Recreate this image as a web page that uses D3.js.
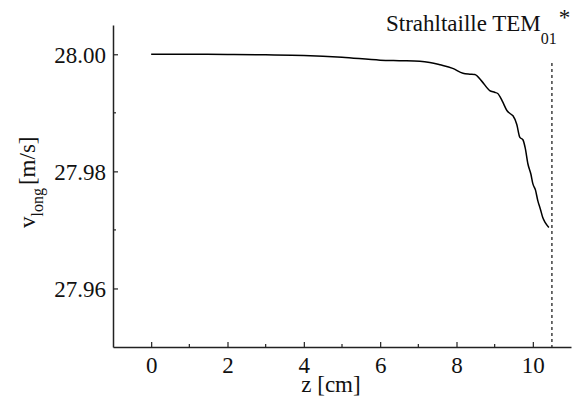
<!DOCTYPE html>
<html>
<head>
<meta charset="utf-8">
<script src="https://d3js.org/d3.v7.min.js"></script>
<style>
  body { margin: 0; background: #fff; }
  svg text, svg tspan { font-family: "Liberation Serif", "Times New Roman", serif !important; }
</style>
</head>
<body>
<script>
// Données
const zPositions = [0, 1, 2, 3, 4, 5, 6, 6.5, 7.04, 7.3, 7.57, 7.9, 8.17, 8.35, 8.48, 8.65, 8.87, 9.0, 9.08, 9.2, 9.32, 9.42, 9.48, 9.58, 9.66, 9.74, 9.8, 9.87, 9.95, 10.0, 10.07, 10.13, 10.2, 10.26, 10.33, 10.42]
const vLong = [28.0000, 28.0000, 27.99995, 27.9999, 27.9998, 27.9995, 27.9990, 27.9989, 27.9988, 27.9986, 27.9982, 27.9976, 27.99675, 27.9966, 27.99653, 27.9955, 27.9938, 27.9935, 27.9933, 27.9920, 27.9904, 27.9898, 27.9895, 27.9880, 27.9858, 27.9854, 27.9840, 27.9813, 27.9795, 27.9779, 27.9768, 27.9750, 27.9735, 27.9721, 27.9712, 27.9704]
const xTicks = [0, 2, 4, 6, 8, 10]
const xMinorTicks = [1, 3, 5, 7, 9]
const yTicks = [27.96, 27.98, 28.00]
const yMinorTicks = [27.97, 27.99]
const waistZ = 10.5

// Dimensions du graphique
const width = 579
const height = 401
const margin = {top: 25, right: 8, bottom: 54, left: 113}
const serif = "Liberation Serif"
const fs = 23

const svg = d3.select("body")
  .append("svg")
    .attr("width", width)
    .attr("height", height)
    .attr("font-family", serif)

const x = d3.scaleLinear()
  .domain([-1, 11])
  .range([margin.left, width - margin.right])

const y = d3.scaleLinear()
  .domain([27.95, 28.005])
  .range([height - margin.bottom, margin.top])

const data = zPositions.map((z, i) => ({z: z, v: vLong[i]}))

// Axe x (graduations vers l'intérieur)
const gx = svg.append("g")
  .attr("transform", `translate(0,${y.range()[0]})`)
gx.call(d3.axisBottom(x).tickValues(xTicks).tickSizeInner(-5).tickSizeOuter(0).tickFormat(d3.format("d")))
gx.append("g").selectAll("line")
  .data(xMinorTicks)
  .join("line")
    .attr("x1", d => x(d)).attr("x2", d => x(d))
    .attr("y1", 0).attr("y2", -3)
    .attr("stroke", "#222")
    .attr("stroke-width", 1.2)
gx.attr("font-family", serif).attr("font-size", fs)
gx.select(".domain").attr("stroke", "#222").attr("stroke-width", 1.5)
gx.selectAll(".tick line").attr("stroke", "#222").attr("stroke-width", 1.2)
gx.selectAll(".tick text")
  .attr("y", 10)
  .attr("dy", "0.71em")
  .attr("fill", "#111")

// Axe y
const gy = svg.append("g")
  .attr("transform", `translate(${x.range()[0]},0)`)
gy.call(d3.axisLeft(y).tickValues(yTicks).tickSizeInner(-5).tickSizeOuter(0).tickFormat(d3.format(".2f")))
gy.append("g").selectAll("line")
  .data(yMinorTicks)
  .join("line")
    .attr("y1", d => y(d)).attr("y2", d => y(d))
    .attr("x1", 0).attr("x2", 3)
    .attr("stroke", "#222")
    .attr("stroke-width", 1.2)
gy.attr("font-family", serif).attr("font-size", fs)
gy.select(".domain").attr("stroke", "#222").attr("stroke-width", 1.5)
gy.selectAll(".tick line").attr("stroke", "#222").attr("stroke-width", 1.2)
gy.selectAll(".tick text")
  .attr("x", -7)
  .attr("dy", "0.36em")
  .attr("fill", "#111")

// Courbe
const line = d3.line()
  .x(d => x(d.z))
  .y(d => y(d.v))
  .curve(d3.curveMonotoneX)

svg.append("path")
  .datum(data)
  .attr("fill", "none")
  .attr("stroke", "#000")
  .attr("stroke-width", 1.5)
  .attr("d", line)

// Ligne pointillée : taille du faisceau
svg.append("line")
  .attr("x1", x(waistZ)).attr("x2", x(waistZ))
  .attr("y1", 63).attr("y2", y.range()[0])
  .attr("stroke", "#222")
  .attr("stroke-width", 1.3)
  .attr("stroke-dasharray", "3,3")

// Annotation
const ann = svg.append("text")
  .attr("x", 386)
  .attr("y", 31)
  .attr("font-family", serif)
  .attr("font-size", fs)
  .attr("fill", "#111")
ann.append("tspan").text("Strahltaille TEM")
ann.append("tspan").attr("dy", 13).attr("font-size", 16).text("01")
ann.append("tspan").attr("dy", -19).attr("dx", 2).attr("font-size", fs).text("*")

// Titre de l'axe x
svg.append("text")
  .attr("x", 331)
  .attr("y", 392)
  .attr("text-anchor", "middle")
  .attr("font-family", serif)
  .attr("font-size", fs)
  .attr("fill", "#111")
  .text("z [cm]")

// Titre de l'axe y
const yl = svg.append("text")
  .attr("transform", "translate(35,228) rotate(-90)")
  .attr("font-family", serif)
  .attr("font-size", fs)
  .attr("fill", "#111")
yl.append("tspan").text("v")
yl.append("tspan").attr("dy", 8).attr("font-size", 16).text("long")
yl.append("tspan").attr("dy", -8).attr("dx", 3).text("[m/s]")
</script>
</body>
</html>
